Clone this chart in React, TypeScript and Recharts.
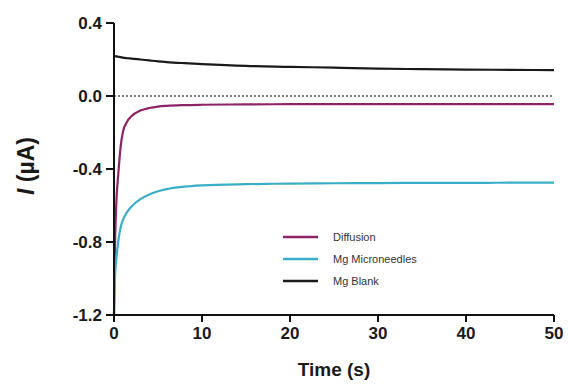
import { LineChart, Line, XAxis, YAxis, ReferenceLine } from "recharts";

const time = [0, 0.1, 0.25, 0.5, 0.75, 1, 1.5, 2, 3, 4, 5, 6, 8, 10, 15, 20, 25, 30, 35, 40, 45, 50];
const diffusion = [-1.2, -0.85, -0.6, -0.42, -0.28, -0.2, -0.14, -0.11, -0.08, -0.066, -0.058, -0.054, -0.05, -0.048, -0.046, -0.045, -0.045, -0.045, -0.045, -0.045, -0.045, -0.045];
const microneedles = [-1.2, -1.0, -0.9, -0.79, -0.72, -0.68, -0.635, -0.605, -0.565, -0.54, -0.522, -0.51, -0.497, -0.49, -0.483, -0.48, -0.478, -0.477, -0.476, -0.476, -0.475, -0.475];
const blank = [0.22, 0.219, 0.217, 0.215, 0.213, 0.21, 0.207, 0.205, 0.2, 0.195, 0.19, 0.186, 0.18, 0.175, 0.165, 0.16, 0.155, 0.15, 0.147, 0.145, 0.143, 0.142];
const xTicks = [0, 10, 20, 30, 40, 50];
const yTicks = [-1.2, -0.8, -0.4, 0, 0.4];

const seriesInfo = [
  { key: "diffusion", name: "Diffusion", color: "#8e2468" },
  { key: "microneedles", name: "Mg Microneedles", color: "#3aaec6" },
  { key: "blank", name: "Mg Blank", color: "#1a1a1a" },
];

const rows = time.map((t, i) => ({
  t,
  diffusion: diffusion[i],
  microneedles: microneedles[i],
  blank: blank[i],
}));

const font = "'Liberation Sans', Arial, sans-serif";
const tickStyle = { fontFamily: font, fontWeight: 700, fontSize: 17, fill: "#1a1a1a" };

// legend sits inside the plot, lower middle
function LegendBox() {
  return (
    <svg width={200} height={70} style={{ position: "absolute", left: 283, top: 229 }}>
      {seriesInfo.map((s, i) => (
        <g key={s.key}>
          <line x1={0} x2={35} y1={8 + i * 22} y2={8 + i * 22} stroke={s.color} strokeWidth={2.5} />
          <text x={50} y={12 + i * 22} fontFamily={font} fontSize={11} fill="#333">
            {s.name}
          </text>
        </g>
      ))}
    </svg>
  );
}

function YLabel(props: any) {
  const vb = props.viewBox || {};
  const cx = 34;
  const cy = (vb.y || 0) + (vb.height || 0) / 2 - 3;
  return (
    <text
      x={cx}
      y={cy}
      transform={`rotate(-90, ${cx}, ${cy})`}
      textAnchor="middle"
      fontFamily={font}
      fontWeight={700}
      fontSize={23}
      fill="#1a1a1a"
    >
      <tspan fontStyle="italic">I</tspan>
      <tspan> (µA)</tspan>
    </text>
  );
}

export default function App() {
  return (
    <div style={{ position: "absolute", left: 0, top: 0, width: 569, height: 386, background: "#fff" }}>
      <LineChart width={569} height={386} data={rows} margin={{ top: 23, right: 15, bottom: 41, left: 54 }}>
        <XAxis
          dataKey="t"
          type="number"
          domain={[0, 50]}
          ticks={xTicks}
          tick={tickStyle}
          tickSize={7}
          tickMargin={5}
          stroke="#111"
          strokeWidth={2}
          height={30}
          label={{ value: "Time (s)", position: "insideBottom", offset: -31, style: { fontFamily: font, fontWeight: 700, fontSize: 19, fill: "#1a1a1a" } }}
        />
        <YAxis
          type="number"
          domain={[-1.2, 0.4]}
          ticks={yTicks}
          tick={tickStyle}
          tickFormatter={(v: number) => v.toFixed(1)}
          tickSize={8}
          tickMargin={4}
          stroke="#111"
          strokeWidth={2}
          width={60}
          label={<YLabel />}
        />
        <ReferenceLine y={0} stroke="#555" strokeDasharray="2 2" strokeWidth={1.5} />
        {seriesInfo.map((s) => (
          <Line
            key={s.key}
            type="monotone"
            dataKey={s.key}
            name={s.name}
            stroke={s.color}
            strokeWidth={2.2}
            dot={false}
            isAnimationActive={false}
          />
        ))}
      </LineChart>
      <LegendBox />
    </div>
  );
}
